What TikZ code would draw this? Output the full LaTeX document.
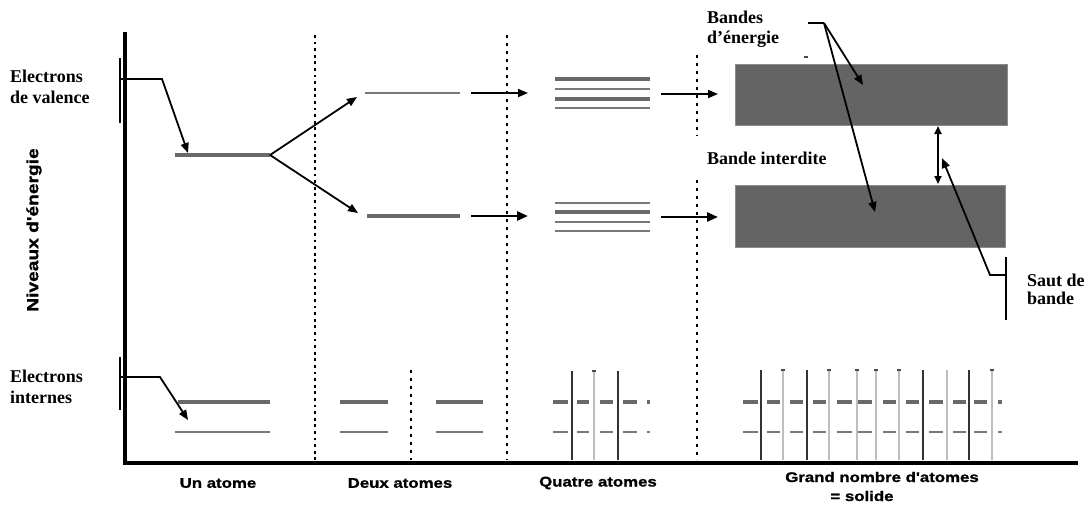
\documentclass[tikz,border=0pt]{standalone}
\usepackage{fontspec}
\setmainfont{Liberation Serif}
\newfontfamily\lblfont[FakeStretch=1.2,FakeBold=1.2]{Liberation Sans Bold}
\usetikzlibrary{arrows.meta}

\definecolor{bandgray}{RGB}{100,100,100}
\definecolor{bandedge}{RGB}{140,140,140}
\definecolor{levelgray}{RGB}{105,105,105}
\definecolor{thingray}{RGB}{120,120,120}
\definecolor{palegray}{RGB}{190,190,190}

\begin{document}
\begin{tikzpicture}[x=1pt,y=-1pt,
  tag/.style={font=\fontsize{18}{21}\selectfont\bfseries, align=left,
              anchor=north west, inner sep=0pt},
  axlabel/.style={font=\lblfont\fontsize{14}{16}\selectfont, inner sep=0pt},
  tip/.style={-{Triangle[length=10pt,width=8pt]}, line width=1.8pt},
  bigtip/.style={-{Triangle[length=11pt,width=9pt]}, line width=2.6pt},
  bracket/.style={line width=1.5pt},
  level/.style={line width=3.2pt, draw=levelgray},
  thinlevel/.style={line width=2pt, draw=thingray},
  sepdots/.style={line width=2.8pt, dash pattern=on 2.8pt off 3.8pt},
  sepdash/.style={line width=2pt, dash pattern=on 3pt off 5pt},
  darkbar/.style={line width=1.2pt, draw=black!80},
  palebar/.style={line width=2.8pt, draw=palegray},
  band/.style={fill=bandgray, draw=bandedge, line width=1pt}
]
\fill[white] (0,0) rectangle (1091,507);
\useasboundingbox (0,0) rectangle (1091,507);

% ---------- axes ----------
\draw[line width=3.2pt, line join=miter] (125,32) -- (125,463) -- (1078,463);
\node[axlabel, font=\lblfont\fontsize{16}{18}\selectfont, rotate=90] (yaxis) at (34,230) {Niveaux d'énergie};

% ---------- column separators ----------
\draw[sepdots] (315,35) -- (315,460);
\draw[sepdash] (507,35) -- (507,460);
\draw[sepdash] (697,55) -- (697,136);
\draw[sepdash] (697,180) -- (697,460);
\draw[sepdash] (411,370) -- (411,460);

% ---------- valence electrons ----------
\node[tag] (valence) at (10,70) {Electrons\\de valence};
\coordinate (vtop) at (120,58);
\coordinate (vbot) at (120,123);
\coordinate (va) at (121,79);
\coordinate (vb) at (162,79);
\coordinate (u1in) at (188,153);
\coordinate (u1L) at (175,155);
\coordinate (u1R) at (270,155);
\draw[bracket] (vtop) -- (vbot);
\draw[tip] (va) -- (vb) -- (u1in);
\draw[level] (u1L) -- (u1R);

% split into two atoms
\coordinate (d1in) at (357,97);
\coordinate (d2in) at (358,213);
\draw[tip] (u1R) -- (d1in);
\draw[tip] (u1R) -- (d2in);
\coordinate (d1L) at (365,93);
\coordinate (d1R) at (460,93);
\coordinate (d2L) at (367,216);
\coordinate (d2R) at (460,216);
\draw[thinlevel] (d1L) -- (d1R);
\draw[level] (d2L) -- (d2R);

% two atoms -> four atoms
\coordinate (a1s) at (471,93);
\coordinate (a1e) at (528,93);
\coordinate (a2s) at (471,216);
\coordinate (a2e) at (528,216);
\draw[tip] (a1s) -- (a1e);
\draw[bigtip] (a2s) -- (a2e);

% four atoms: stacked levels
\foreach \y/\s in {79/level, 89/thinlevel, 99/level, 108/thinlevel,
                   203/thinlevel, 212/level, 222/thinlevel, 231/thinlevel}
  \draw[\s] (555,\y) -- (650,\y);

% four atoms -> solid
\coordinate (b1s) at (661,94);
\coordinate (b1e) at (718,94);
\coordinate (b2s) at (661,217);
\coordinate (b2e) at (718,217);
\draw[tip] (b1s) -- (b1e);
\draw[bigtip] (b2s) -- (b2e);

% ---------- energy bands ----------
\draw[band] (735,64) rectangle (1007,125);
\draw[band] (735,185) rectangle (1005,247);
\draw[line width=1.2pt, draw=black!70] (804,57) -- (808,57);

\node[tag, font=\fontsize{18}{20}\selectfont\bfseries] (bandes) at (707,10.5) {Bandes\\d’énergie};
\coordinate (bk1) at (808,23);
\coordinate (bk2) at (824,23);
\coordinate (bup) at (863,85);
\coordinate (blo) at (875,212);
\draw[bracket] (bk1) -- (bk2);
\draw[tip] (bk2) -- (bup);
\draw[tip] (bk2) -- (blo);

\node[tag] (interdite) at (707,152) {Bande interdite};

% band gap
\coordinate (gtop) at (938,126);
\coordinate (gbot) at (938,184);
\draw[{Triangle[length=8pt,width=7pt]}-{Triangle[length=8pt,width=7pt]}, line width=1.8pt] (gtop) -- (gbot);

\node[tag, font=\fontsize{18}{18}\selectfont\bfseries] (saut) at (1027,274) {Saut de\\bande};
\coordinate (stop) at (1006,257);
\coordinate (sbot) at (1006,320);
\coordinate (sa) at (1006,275);
\coordinate (sb) at (990,275);
\coordinate (sgap) at (942,158);
\draw[bracket] (stop) -- (sbot);
\draw[tip] (sa) -- (sb) -- (sgap);

% ---------- inner electrons ----------
\node[tag] (internes) at (10,370) {Electrons\\internes};
\coordinate (itop) at (120,357);
\coordinate (ibot) at (120,410);
\coordinate (ia) at (121,377);
\coordinate (ib) at (160,377);
\coordinate (iin) at (188,420);
\draw[bracket] (itop) -- (ibot);
\draw[tip] (ia) -- (ib) -- (iin);
\draw[level] (178,402) -- (270,402);
\draw[thinlevel] (175,432) -- (270,432);

% two atoms
\draw[level] (340,402) -- (388,402);
\draw[thinlevel] (340,432) -- (388,432);
\draw[level] (436,402) -- (483,402);
\draw[thinlevel] (436,432) -- (483,432);

% four atoms
\draw[darkbar] (572,371) -- (572,460);
\draw[palebar] (594,371) -- (594,460);
\draw[darkbar] (618,371) -- (618,460);
\draw[line width=1.2pt, black!70] (592,371) -- (596,371);
\foreach \a/\b in {553/568, 577/589, 600/613, 623/637, 647/650} {
  \draw[level] (\a,402) -- (\b,402);
  \draw[thinlevel] (\a,432) -- (\b,432);
}

% many atoms = solid
\foreach \x/\s in {761/darkbar, 783/palebar, 807/darkbar, 829/palebar,
                   857/palebar, 876/palebar, 899/palebar, 923/darkbar,
                   947/palebar, 969/darkbar, 992/palebar}
  \draw[\s] (\x,370) -- (\x,460);
\foreach \x in {783, 829, 857, 876, 899, 992}
  \draw[line width=1.2pt, black!70] (\x-2,370) -- (\x+2,370);
\foreach \a/\b in {743/758, 767/780, 790/803, 813/826, 837/852, 858/872,
                   883/896, 906/919, 929/943, 953/966, 974/987, 998/1002} {
  \draw[level] (\a,402) -- (\b,402);
  \draw[thinlevel] (\a,432) -- (\b,432);
}

% ---------- column labels ----------
\node[axlabel] (c1) at (218,483) {Un atome};
\node[axlabel] (c2) at (400,483) {Deux atomes};
\node[axlabel] (c3) at (598,483) {Quatre atomes};
\node[axlabel] (c4) at (882,477) {Grand nombre d'atomes};
\node[axlabel] (c5) at (862,496) {= solide};
\end{tikzpicture}
\end{document}
